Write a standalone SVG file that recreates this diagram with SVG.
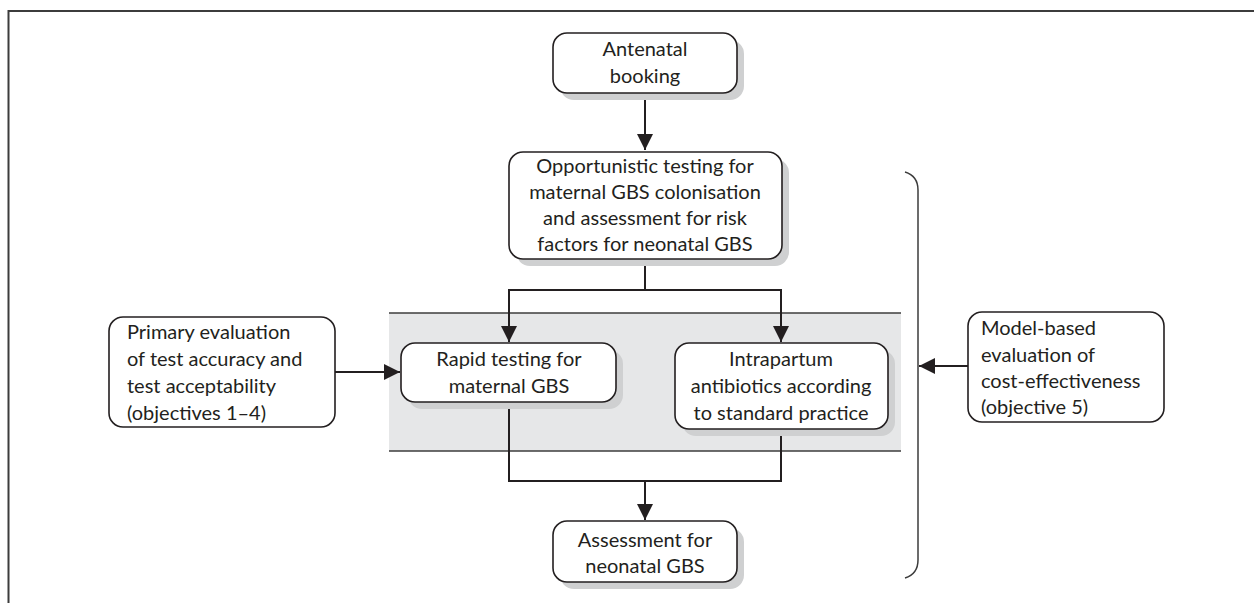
<svg xmlns="http://www.w3.org/2000/svg" width="1254" height="603" viewBox="0 0 1254 603">
  <style>
    .box { fill: #ffffff; stroke: #231f20; stroke-width: 1.6; }
    .shadow { fill: #cfd0d1; stroke: none; }
    .lbl { font-family: Lato, "Liberation Sans", sans-serif; font-size: 20px; fill: #231f20; }
    .mid { text-anchor: middle; }
    .wire { fill: none; stroke: #231f20; stroke-width: 2; }
  </style>
  <defs>
    <marker id="arrow" viewBox="0 0 16 16" refX="16" refY="8" markerWidth="16" markerHeight="16" markerUnits="userSpaceOnUse" orient="auto">
      <path d="M0,0 L16,8 L0,16 Z" fill="#231f20"/>
    </marker>
  </defs>

  <rect width="1254" height="603" fill="#ffffff"/>
  <!-- outer frame (open to the right and bottom) -->
  <path d="M8.5,603 V11 H1254" fill="none" stroke="#3c3c3c" stroke-width="2"/>

  <!-- shaded intrapartum band -->
  <g id="band">
    <rect x="389" y="313" width="512" height="138" fill="#e6e7e8"/>
    <line x1="389" y1="313" x2="901" y2="313" stroke="#3c3c3c" stroke-width="1.5"/>
    <line x1="389" y1="451" x2="901" y2="451" stroke="#3c3c3c" stroke-width="1.5"/>
  </g>

  <!-- bracket grouping the pathway for the economic model -->
  <path id="bracket" d="M905,172 Q918,176 918,190 V560 Q918,574 905,578" fill="none" stroke="#3c3c3c" stroke-width="1.5"/>

  <g id="connectors">
    <path class="wire" d="M645,93 V150" marker-end="url(#arrow)"/>
    <path class="wire" d="M645,259 V290 H509 V342" marker-end="url(#arrow)"/>
    <path class="wire" d="M645,290 H781 V342" marker-end="url(#arrow)"/>
    <path class="wire" d="M509,402 V481 H645 V520" marker-end="url(#arrow)"/>
    <path class="wire" d="M781,429 V481 H645"/>
    <path class="wire" d="M335,372 H400" marker-end="url(#arrow)"/>
    <path class="wire" d="M968,366 H919" marker-end="url(#arrow)"/>
  </g>

  <g id="antenatal-booking">
    <rect class="shadow" x="560" y="40" width="184" height="60" rx="14"/>
    <rect class="box" x="553" y="33" width="184" height="60" rx="14"/>
    <text class="lbl mid" x="645" y="56">Antenatal</text>
    <text class="lbl mid" x="645" y="83">booking</text>
  </g>

  <g id="opportunistic-testing">
    <rect class="shadow" x="516" y="159" width="273" height="107" rx="14"/>
    <rect class="box" x="509" y="152" width="273" height="107" rx="14"/>
    <text class="lbl mid" x="645" y="173">Opportunistic testing for</text>
    <text class="lbl mid" x="645" y="199">maternal GBS colonisation</text>
    <text class="lbl mid" x="645" y="225">and assessment for risk</text>
    <text class="lbl mid" x="645" y="251">factors for neonatal GBS</text>
  </g>

  <g id="rapid-testing">
    <rect class="shadow" x="408" y="350" width="215" height="59" rx="14"/>
    <rect class="box" x="401" y="343" width="215" height="59" rx="14"/>
    <text class="lbl mid" x="509" y="366">Rapid testing for</text>
    <text class="lbl mid" x="509" y="393">maternal GBS</text>
  </g>

  <g id="intrapartum-antibiotics">
    <rect class="shadow" x="682" y="350" width="213" height="86" rx="14"/>
    <rect class="box" x="675" y="343" width="213" height="86" rx="14"/>
    <text class="lbl mid" x="781" y="366">Intrapartum</text>
    <text class="lbl mid" x="781" y="393">antibiotics according</text>
    <text class="lbl mid" x="781" y="420">to standard practice</text>
  </g>

  <g id="neonatal-assessment">
    <rect class="shadow" x="560" y="528" width="184" height="61" rx="14"/>
    <rect class="box" x="553" y="521" width="184" height="61" rx="14"/>
    <text class="lbl mid" x="645" y="547">Assessment for</text>
    <text class="lbl mid" x="645" y="573">neonatal GBS</text>
  </g>

  <g id="primary-evaluation">
    <rect class="box" x="109" y="317" width="226" height="110" rx="14"/>
    <text class="lbl" x="127" y="339">Primary evaluation</text>
    <text class="lbl" x="127" y="366">of test accuracy and</text>
    <text class="lbl" x="127" y="393">test acceptability</text>
    <text class="lbl" x="127" y="420">(objectives 1–4)</text>
  </g>

  <g id="model-evaluation">
    <rect class="box" x="968" y="312" width="196" height="110" rx="14"/>
    <text class="lbl" x="981" y="335">Model-based</text>
    <text class="lbl" x="981" y="362">evaluation of</text>
    <text class="lbl" x="981" y="388">cost-effectiveness</text>
    <text class="lbl" x="981" y="414">(objective 5)</text>
  </g>
</svg>
